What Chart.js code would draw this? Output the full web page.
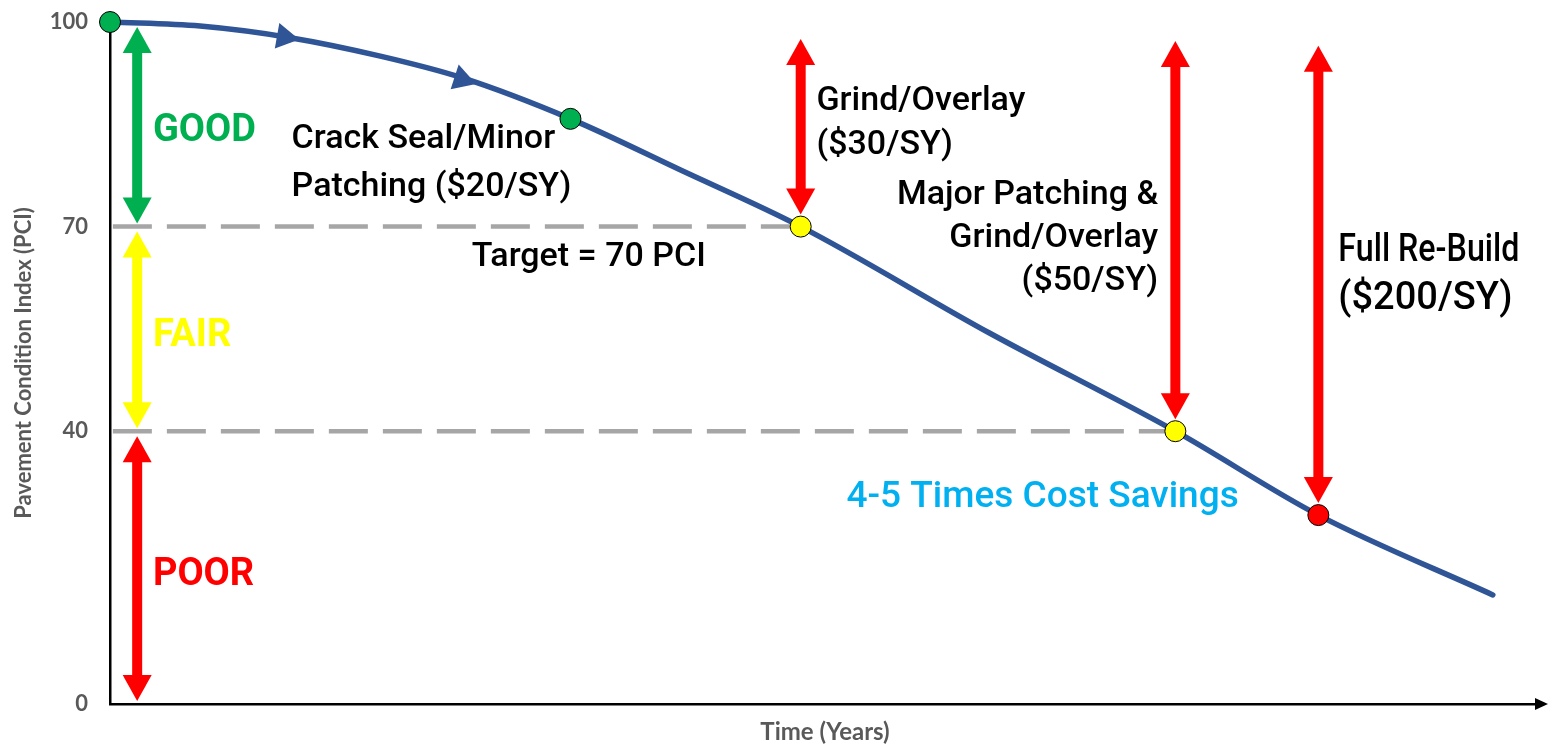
<!DOCTYPE html>
<html>
<head>
<meta charset="utf-8">
<script src="https://cdn.jsdelivr.net/npm/chart.js@4.4.0/dist/chart.umd.min.js"></script>
<style>
html, body { margin: 0; padding: 0; background: #fff; }
#wrap { width: 1557px; height: 749px; }
</style>
</head>
<body>
<div id="wrap"><canvas id="pci"></canvas></div>
<script>
// deterioration curve (time as % of the span, PCI)
var curveTime = [0, 6.3, 12.6, 18.9, 24.5, 32.2, 39.9, 48.3, 61.5, 74.5, 84.5, 96.7];
var curvePci  = [100, 99.4, 97.7, 95.0, 91.9, 85.8, 78.3, 70, 54.4, 40, 27.7, 16.0];

// treatment points sitting on the curve
var pointTime  = [0, 32.2, 48.3, 74.5, 84.5];
var pointPci   = [100, 85.8, 70, 40, 27.7];
var pointColor = ['#00B050', '#00B050', '#FFFF00', '#FFFF00', '#FF0000'];

// little arrows showing the direction of the curve
var flowTime  = [12.2, 24.6];
var flowPci   = [97.8, 91.6];
var flowAngle = [100, 108];

var yTicks = [0, 40, 70, 100];

// dashed guides at 70 and 40
var guidePci = [70, 40];
var guideEnd = [48.3, 74.5];

// condition bands on the left
var bandNames  = ['GOOD', 'FAIR', 'POOR'];
var bandTop    = [100, 70, 40];
var bandBottom = [70, 40, 0];
var bandColor  = ['#00B050', '#FFFF00', '#FF0000'];
var bandTime   = 1.9;

// treatment arrows (red)
var treatTime = [48.3, 74.5, 84.5];
var treatTop  = [97.5, 97.2, 96.5];
var treatPci  = [70, 40, 27.7];

function pts(xs, ys) {
    return xs.map(function (x, i) { return {x: x, y: ys[i]}; });
}

function arrow(ctx, x, y1, y2, color, inset1, inset2) {
    // vertical double-headed arrow from y1 (top) to y2 (bottom)
    var head = 26, half = 14.5, shaft = 10;
    y1 += inset1; y2 -= inset2;
    ctx.fillStyle = color;
    ctx.fillRect(x - shaft / 2, y1 + head - 1, shaft, (y2 - y1) - 2 * head + 2);
    ctx.beginPath();
    ctx.moveTo(x, y1);
    ctx.lineTo(x + half, y1 + head);
    ctx.lineTo(x - half, y1 + head);
    ctx.closePath();
    ctx.fill();
    ctx.beginPath();
    ctx.moveTo(x, y2);
    ctx.lineTo(x + half, y2 - head);
    ctx.lineTo(x - half, y2 - head);
    ctx.closePath();
    ctx.fill();
}

function lines(ctx, text, x, y, lh) {
    text.forEach(function (t, i) { ctx.fillText(t, x, y + i * lh); });
}

var decor = {
    id: 'decor',
    beforeDatasetsDraw: function (chart) {
        var ctx = chart.ctx, xs = chart.scales.x, ys = chart.scales.y;
        ctx.save();
        bandNames.forEach(function (n, i) {
            arrow(ctx, xs.getPixelForValue(bandTime), ys.getPixelForValue(bandTop[i]),
                  ys.getPixelForValue(bandBottom[i]), bandColor[i], 5, 3);
        });
        treatTime.forEach(function (t, i) {
            arrow(ctx, xs.getPixelForValue(t), ys.getPixelForValue(treatTop[i]),
                  ys.getPixelForValue(treatPci[i]), '#FF0000', 0, 12);
        });
        ctx.restore();
    },
    afterDraw: function (chart) {
        var ctx = chart.ctx, xs = chart.scales.x, ys = chart.scales.y, a = chart.chartArea;
        var X = function (v) { return xs.getPixelForValue(v); };
        var Y = function (v) { return ys.getPixelForValue(v) + 4; };
        ctx.save();
        // arrow at the end of the time axis
        ctx.fillStyle = '#000';
        ctx.beginPath();
        ctx.moveTo(a.right + 8, a.bottom);
        ctx.lineTo(a.right - 5, a.bottom - 6);
        ctx.lineTo(a.right - 5, a.bottom + 6);
        ctx.closePath();
        ctx.fill();

        ctx.textBaseline = 'middle';
        ctx.textAlign = 'left';
        ctx.font = 'bold 38px Roboto';
        var bandY = [84.6, 54.4, 19.4];
        bandNames.forEach(function (n, i) {
            ctx.fillStyle = bandColor[i];
            ctx.fillText(n, X(3.0), Y(bandY[i]));
        });

        ctx.fillStyle = '#000';
        ctx.font = '500 34px Roboto';
        lines(ctx, ['Crack Seal/Minor', 'Patching ($20/SY)'], X(12.7), Y(83.4), 48);
        ctx.fillText('Target = 70 PCI', X(25.3), Y(66.1));
        lines(ctx, ['Grind/Overlay', '($30/SY)'], X(49.4), Y(88.9), 44);
        ctx.textAlign = 'right';
        lines(ctx, ['Major Patching &', 'Grind/Overlay', '($50/SY)'], X(73.3), Y(75.1), 43);
        ctx.textAlign = 'left';
        ctx.font = '500 38px Roboto';
        ctx.fillText('Full Re-Build', X(85.9), Y(66.9), 181);
        ctx.fillText('($200/SY)', X(85.9), Y(66.9) + 48);
        ctx.fillStyle = '#00B0F0';
        ctx.font = '500 37px Roboto';
        ctx.fillText('4-5 Times Cost Savings', X(51.5), Y(30.9));
        ctx.restore();
    }
};

new Chart(document.getElementById('pci'), {
    type: 'line',
    data: {
        datasets: [
            {
                data: pts(pointTime, pointPci),
                showLine: false,
                pointRadius: 10.5,
                pointBackgroundColor: pointColor,
                pointBorderColor: '#000',
                pointBorderWidth: 1,
                clip: false,
                order: 0
            },
            {
                data: pts(flowTime, flowPci),
                showLine: false,
                pointStyle: 'triangle',
                pointRadius: 15,
                rotation: flowAngle,
                pointBackgroundColor: '#2F5597',
                pointBorderWidth: 0,
                order: 1
            },
            {
                data: pts(curveTime, curvePci),
                borderColor: '#2F5597',
                borderWidth: 5.5,
                borderCapStyle: 'round',
                cubicInterpolationMode: 'monotone',
                pointRadius: 0,
                clip: false,
                order: 2
            },
            {
                data: [{x: 0.2, y: guidePci[0]}, {x: guideEnd[0], y: guidePci[0]}],
                borderColor: '#A6A6A6',
                borderWidth: 4.5,
                borderDash: [39, 15],
                pointRadius: 0,
                order: 3
            },
            {
                data: [{x: 0.2, y: guidePci[1]}, {x: guideEnd[1], y: guidePci[1]}],
                borderColor: '#A6A6A6',
                borderWidth: 4.5,
                borderDash: [39, 15],
                pointRadius: 0,
                order: 3
            }
        ]
    },
    options: {
        responsive: true,
        maintainAspectRatio: false,
        animation: false,
        layout: {autoPadding: false, padding: {top: 22, right: 17, bottom: 0, left: 0}},
        plugins: {legend: {display: false}, tooltip: {enabled: false}},
        scales: {
            x: {
                type: 'linear',
                min: 0,
                max: 100,
                grid: {display: false, drawTicks: false},
                border: {display: true, color: '#000', width: 2.5},
                ticks: {display: false},
                title: {display: true, text: 'Time (Years)', color: '#595959',
                        font: {family: 'Lato', weight: 'bold', size: 24},
                        padding: {top: 2, bottom: 2}},
                afterFit: function (s) { s.height = 45; s.paddingLeft = 0; s.paddingRight = 0; }
            },
            y: {
                min: 0,
                max: 100,
                grid: {display: false, drawTicks: false},
                border: {display: true, color: '#000', width: 2.5},
                afterBuildTicks: function (s) {
                    s.ticks = yTicks.map(function (v) { return {value: v}; });
                },
                ticks: {color: '#595959', font: {family: 'Lato', weight: 'bold', size: 22}, padding: 22},
                title: {display: true, text: 'Pavement Condition Index (PCI)', color: '#595959',
                        font: {family: 'Lato', weight: 'bold', size: 22},
                        padding: {top: 11, bottom: 11}},
                afterFit: function (s) { s.width = 110; s.paddingTop = 0; s.paddingBottom = 0; }
            }
        }
    },
    plugins: [decor]
});
</script>
</body>
</html>
